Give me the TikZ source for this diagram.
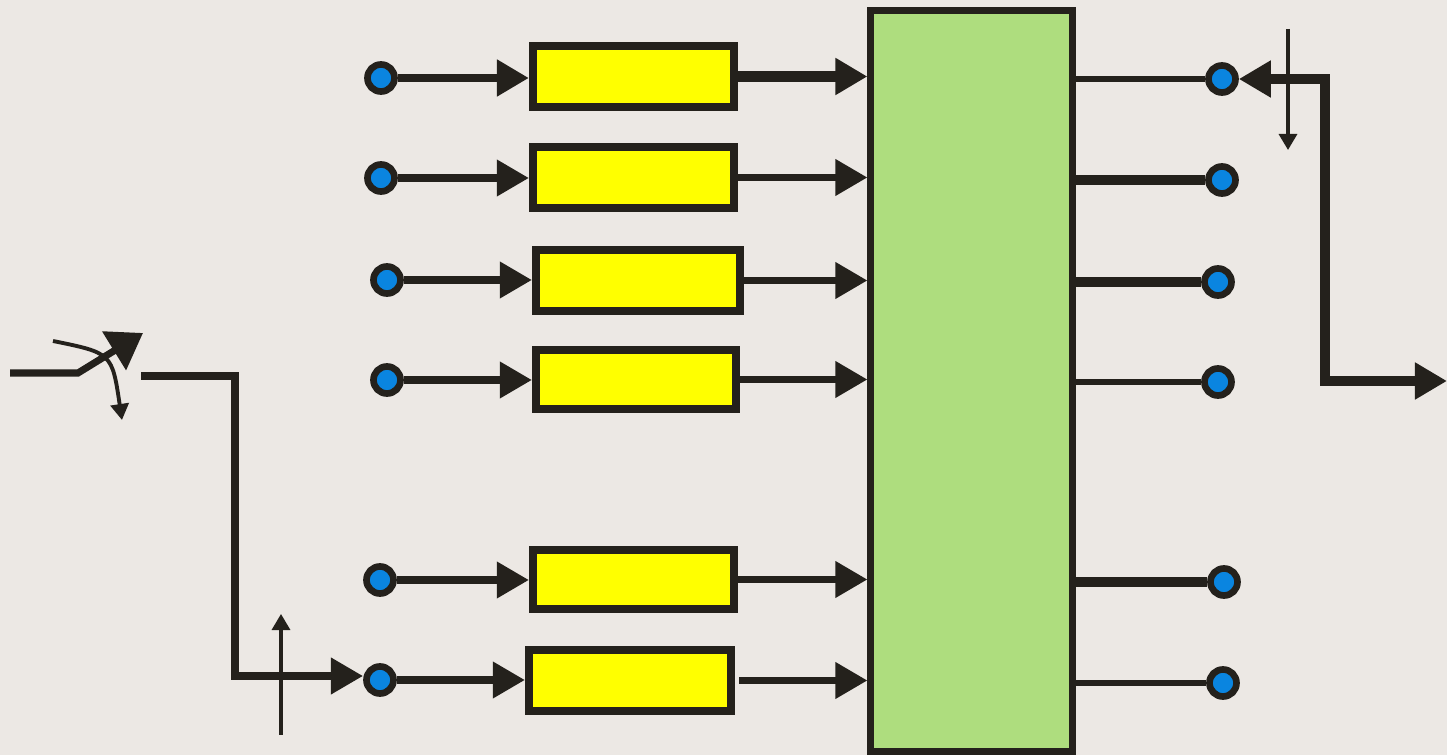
\documentclass[tikz,border=0pt]{standalone}
\usepackage{tikz}
\usetikzlibrary{arrows.meta, positioning}
\definecolor{ink}{HTML}{24211C}
\definecolor{paper}{HTML}{ECE8E4}
\definecolor{jackblue}{HTML}{0A85E0}
\definecolor{leaf}{HTML}{AEDD7E}
\definecolor{lemon}{HTML}{FFFF00}
\tikzset{
  blk/.style = {rectangle, draw=ink, fill=lemon, line width=2.3pt,
    inner sep=0pt},
  bus/.style = {rectangle, draw=ink, fill=leaf, line width=2pt,
    inner sep=0pt, minimum width=2.01cm, minimum height=7.4cm},
  jack/.style = {circle, draw=ink, fill=jackblue, line width=1.9pt,
    inner sep=0pt, minimum size=0.27cm},
  wire/.style = {draw=ink, line width=2pt},
  heavy/.style = {draw=ink, line width=2.85pt},
  hair/.style = {draw=ink, line width=0.95pt},
  sm/.tip = {Triangle[length=1.6mm, width=1.8mm]}
}

\begin{document}
\begin{tikzpicture}[x=0.01cm, y=-0.01cm, >={Triangle[length=3.2mm, width=3.5mm]}]
\fill[paper] (0,0) rectangle (1447,755);
\useasboundingbox (0,0) rectangle (1447,755);

\node [bus] (g) at (971.5,381) {};

\node [blk, minimum width=2.01cm, minimum height=0.61cm] (y1) at (633.5,76.5) {};
\node [blk, minimum width=2.01cm, minimum height=0.61cm] (y2) at (633.5,177.5) {};
\node [blk, minimum width=2.04cm, minimum height=0.61cm] (y3) at (638,280.5) {};
\node [blk, minimum width=2.00cm, minimum height=0.59cm] (y4) at (636,379.5) {};
\node [blk, minimum width=2.01cm, minimum height=0.59cm] (y5) at (633.5,579.5) {};
\node [blk, minimum width=2.02cm, minimum height=0.61cm] (y6) at (630,680.5) {};

\node [jack] (l1) at (381,78) {};
\node [jack] (l2) at (381,178) {};
\node [jack] (l3) at (387,280) {};
\node [jack] (l4) at (387,380) {};
\node [jack] (l5) at (380,580) {};
\node [jack] (l6) at (380,680) {};

\node [jack] (r1) at (1222,79) {};
\node [jack] (r2) at (1222,180) {};
\node [jack] (r3) at (1218,282) {};
\node [jack] (r4) at (1218,382) {};
\node [jack] (r5) at (1224,582) {};
\node [jack] (r6) at (1223,683) {};

\draw [wire, line width=2.5pt, ->] (l1.east) -- (l1.east -| y1.west);
\draw [wire, ->] (l2.east) -- (l2.east -| y2.west);
\draw [wire, ->] (l3.east) -- (l3.east -| y3.west);
\draw [wire, ->] (l4.east) -- (l4.east -| y4.west);
\draw [wire, ->] (l5.east) -- (l5.east -| y5.west);
\draw [wire, ->] (l6.east) -- (l6.east -| y6.west);

\draw [heavy, ->] (y1.east) -- (y1.east -| g.west);
\draw [wire, ->] (y2.east) -- (y2.east -| g.west);
\draw [wire, ->] (y3.east) -- (y3.east -| g.west);
\draw [wire, ->] (y4.east) -- (y4.east -| g.west);
\draw [wire, ->] (y5.east) -- (y5.east -| g.west);
\draw [wire, ->] ([xshift=0.04cm]y6.east) -- (y6.east -| g.west);

\draw [wire, line width=1.9pt] (g.east |- r1) -- (r1.west);
\draw [heavy] (g.east |- r2) -- (r2.west);
\draw [heavy] (g.east |- r3) -- (r3.west);
\draw [wire, line width=1.9pt] (g.east |- r4) -- (r4.west);
\draw [heavy] (g.east |- r5) -- (r5.west);
\draw [wire, line width=1.9pt] (g.east |- r6) -- (r6.west);

\coordinate (kn) at (1325,381);
\coordinate (out) at (1447,381);
\draw [heavy, <->] (r1.east) -- (r1.east -| kn) -- (kn) -- (out);
\coordinate (t0) at (1288,29);
\coordinate (t1) at (1288,150);
\draw [hair, -sm] (t0) -- (t1);

\coordinate (sw0) at (10,373);
\coordinate (sw1) at (78,373);
\coordinate (sw2) at (143,333);
\draw [wire, -{Triangle[length=3.4mm, width=4.4mm]}] (sw0) -- (sw1) -- (sw2);
\coordinate (c0) at (53,341);
\coordinate (c1) at (112,353);
\coordinate (c2) at (122,420);
\draw [hair, line width=1.1pt, -sm] (c0) .. controls (c1) .. (c2);

\coordinate (f0) at (141,376);
\coordinate (f1) at (235,376);
\coordinate (f2) at (235,676);
\coordinate (f3) at (363,676);
\draw [wire, ->] (f0) -- (f1) -- (f2) -- (f3);
\coordinate (b0) at (281,735);
\coordinate (b1) at (281,614);
\draw [hair, -sm] (b0) -- (b1);
\end{tikzpicture}
\end{document}
